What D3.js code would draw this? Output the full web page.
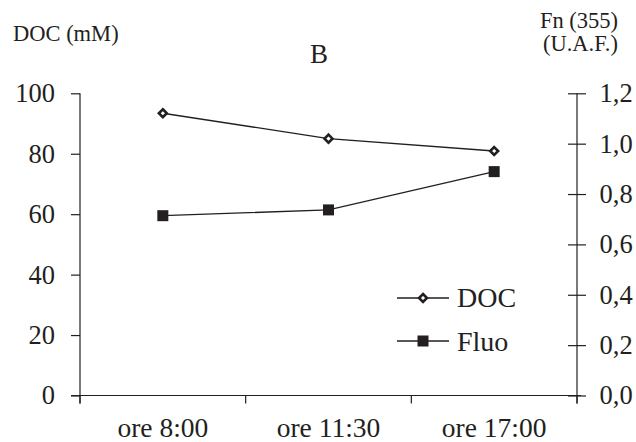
<!DOCTYPE html>
<html>
<head>
<meta charset="utf-8">
<script src="https://cdn.jsdelivr.net/npm/d3@7"></script>
<style>
  body { margin: 0; background: #fff; }
  svg text { font-family: 'Liberation Serif', 'DejaVu Serif', serif; fill: #231f20; }
</style>
</head>
<body>
<div id="chart"></div>
<script>
var categories = ['ore 8:00', 'ore 11:30', 'ore 17:00'];
var docValues = [93.4, 85.0, 80.9];
var fluoValues = [0.714, 0.737, 0.889];
var leftTicks = [0, 20, 40, 60, 80, 100];
var rightTicks = [0, 0.2, 0.4, 0.6, 0.8, 1.0, 1.2];

var width = 636, height = 442;
var plotLeft = 80, plotRight = 577, plotTop = 93.3, plotBottom = 395.5;
var ink = '#231f20';
var serif = "'Liberation Serif', 'DejaVu Serif', serif";

var svg = d3.select('#chart')
    .append('svg')
    .attr('width', width)
    .attr('height', height)
    .attr('font-family', serif)
    .attr('viewBox', '0 0 ' + width + ' ' + height);

var x = d3.scaleBand().domain(categories).range([plotLeft, plotRight]);
var yL = d3.scaleLinear().domain([0, 100]).range([plotBottom, plotTop]);
var yR = d3.scaleLinear().domain([0, 1.2]).range([plotBottom, plotTop]);

// x axis
var xAxis = svg.append('g')
    .attr('transform', 'translate(0,' + plotBottom + ')')
    .call(d3.axisBottom(x).tickSize(0).tickPadding(21.5));
xAxis.attr('font-family', serif);
xAxis.select('.domain').remove();
xAxis.selectAll('text').attr('font-size', 27.5).attr('fill', ink);
xAxis.append('line')
    .attr('x1', plotLeft - 9).attr('x2', plotRight + 4)
    .attr('y1', 0).attr('y2', 0)
    .attr('stroke', ink).attr('stroke-width', 1.2);
xAxis.selectAll('.sep')
    .data(x.domain().map(function (d) { return x(d); }).concat([plotRight]))
    .enter().append('line')
    .attr('x1', function (d) { return d; }).attr('x2', function (d) { return d; })
    .attr('y1', 0).attr('y2', 8)
    .attr('stroke', ink).attr('stroke-width', 1.2);

// left axis
var gL = svg.append('g')
    .attr('transform', 'translate(' + plotLeft + ',0)')
    .call(d3.axisLeft(yL).tickValues(leftTicks).tickSize(9).tickPadding(16).tickSizeOuter(0));
gL.attr('font-family', serif);
gL.select('.domain').remove();
gL.append('line').attr('x1', 0).attr('x2', 0).attr('y1', plotTop).attr('y2', plotBottom + 8);
gL.selectAll('line').attr('stroke', ink).attr('stroke-width', 1.2);
gL.selectAll('text').attr('font-size', 26.5).attr('fill', ink);

// right axis
var fmt = function (d) { return d3.format('.1f')(d).replace('.', ','); };
var gR = svg.append('g')
    .attr('transform', 'translate(' + plotRight + ',0)')
    .call(d3.axisRight(yR).tickValues(rightTicks).tickFormat(fmt).tickSize(9).tickPadding(13.5).tickSizeOuter(0));
gR.attr('font-family', serif);
gR.select('.domain').remove();
gR.selectAll('.tick line').attr('x1', -9);
gR.append('line').attr('x1', 0).attr('x2', 0).attr('y1', plotTop).attr('y2', plotBottom + 8);
gR.selectAll('line').attr('stroke', ink).attr('stroke-width', 1.2);
gR.selectAll('text').attr('font-size', 26.5).attr('fill', ink);

// titles
svg.append('text').attr('x', 13).attr('y', 40.5).attr('font-size', 22.5).text('DOC (mM)');
svg.append('text').attr('x', 319).attr('y', 62.5).attr('text-anchor', 'middle').attr('font-size', 27).text('B');
svg.append('text').attr('x', 618).attr('y', 28).attr('text-anchor', 'end').attr('font-size', 22.5).text('Fn (355)');
svg.append('text').attr('x', 618).attr('y', 51).attr('text-anchor', 'end').attr('font-size', 22.5).text('(U.A.F.)');

var cx = function (d, i) { return x(categories[i]) + x.bandwidth() / 2; };

// DOC series
svg.append('path')
    .datum(docValues)
    .attr('fill', 'none').attr('stroke', ink).attr('stroke-width', 1.3)
    .attr('d', d3.line().x(cx).y(function (d) { return yL(d); }));
var diamond = d3.symbol().type(d3.symbolDiamond2).size(40);
svg.selectAll('.doc').data(docValues).enter().append('path')
    .attr('d', diamond)
    .attr('transform', function (d, i) { return 'translate(' + cx(d, i) + ',' + yL(d) + ')'; })
    .attr('fill', '#fff').attr('stroke', ink).attr('stroke-width', 2.6);

// Fluo series
svg.append('path')
    .datum(fluoValues)
    .attr('fill', 'none').attr('stroke', ink).attr('stroke-width', 1.3)
    .attr('d', d3.line().x(cx).y(function (d) { return yR(d); }));
svg.selectAll('.fluo').data(fluoValues).enter().append('rect')
    .attr('x', function (d, i) { return cx(d, i) - 5.5; })
    .attr('y', function (d) { return yR(d) - 5.5; })
    .attr('width', 11).attr('height', 11)
    .attr('fill', ink);

// legend
var legend = svg.append('g');
legend.append('line').attr('x1', 397).attr('x2', 449).attr('y1', 298).attr('y2', 298)
    .attr('stroke', ink).attr('stroke-width', 1.3);
legend.append('path').attr('d', diamond).attr('transform', 'translate(423,298)')
    .attr('fill', '#fff').attr('stroke', ink).attr('stroke-width', 2.6);
legend.append('text').attr('x', 457).attr('y', 306.5).attr('font-size', 28).text('DOC');
legend.append('line').attr('x1', 397).attr('x2', 449).attr('y1', 341).attr('y2', 341)
    .attr('stroke', ink).attr('stroke-width', 1.3);
legend.append('rect').attr('x', 417.5).attr('y', 335.5).attr('width', 11).attr('height', 11).attr('fill', ink);
legend.append('text').attr('x', 457).attr('y', 350.5).attr('font-size', 28).text('Fluo');
</script>
</body>
</html>
